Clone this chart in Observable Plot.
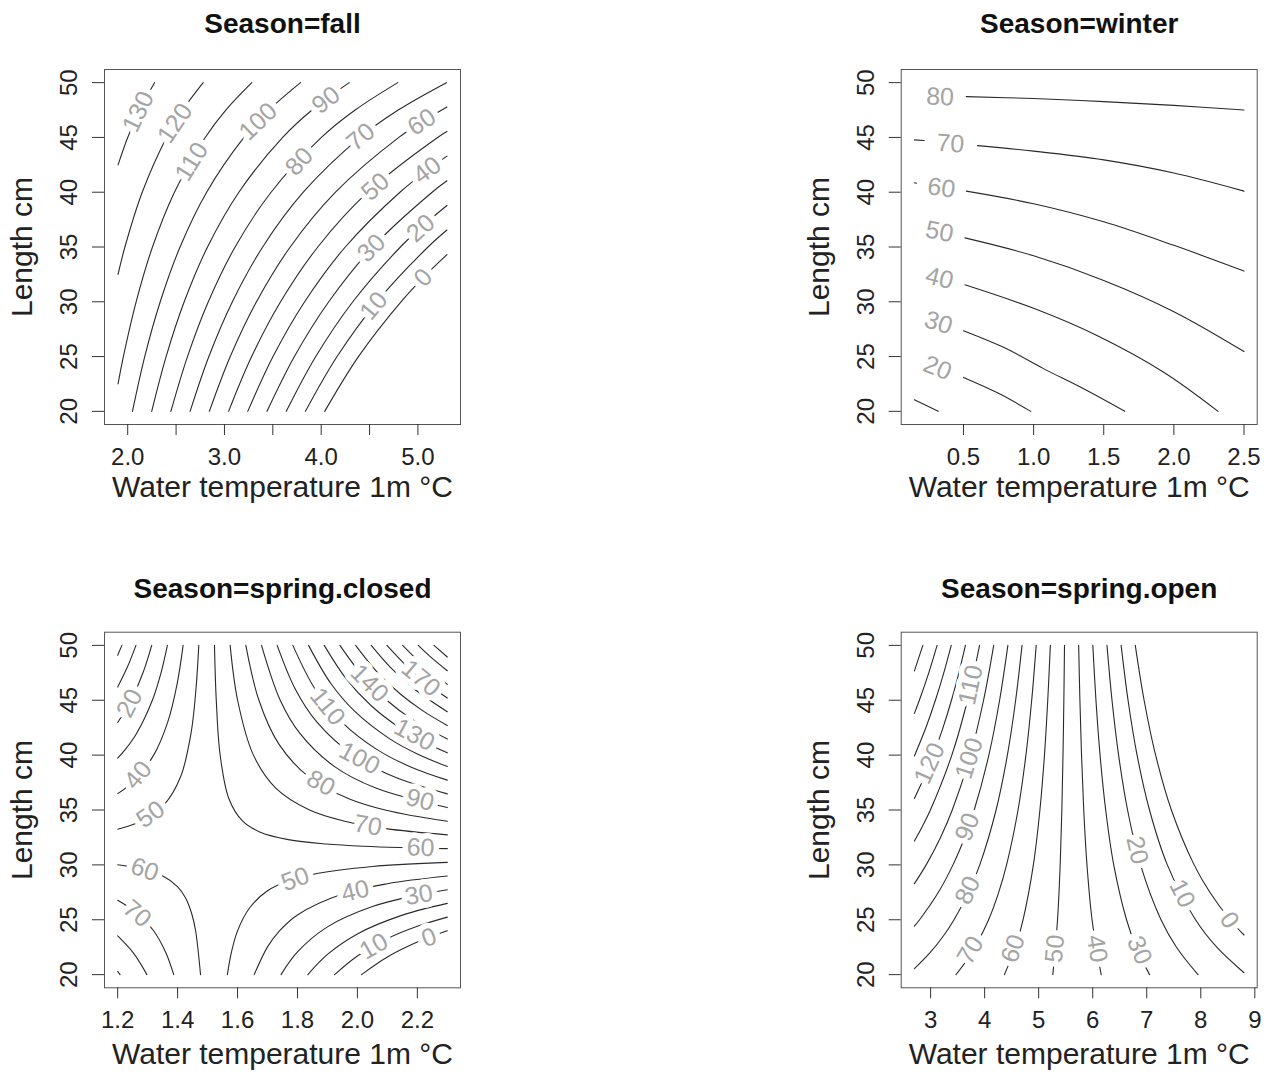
<!DOCTYPE html>
<html><head><meta charset="utf-8">
<script src="https://cdn.jsdelivr.net/npm/d3@7"></script>
<script src="https://cdn.jsdelivr.net/npm/@observablehq/plot@0.6"></script>
<style>
body{margin:0;background:#fff;}
#root{position:relative;width:1267px;height:1077px;background:#fff;}
#root > .pane{position:absolute;}
</style></head><body><div id="root"></div>
<script>
// ---- text ----
const panelTitles = ["Season=fall", "Season=winter", "Season=spring.closed", "Season=spring.open"];
const xAxisTitle = "Water temperature 1m °C";
const yAxisTitle = "Length cm";

// ---- ticks ----
const yTicks = [20, 25, 30, 35, 40, 45, 50];
const fallXTicks = [2, 2.5, 3, 3.5, 4, 4.5, 5];
const fallXLabels = [2, 3, 4, 5];
const winterXTicks = [0.5, 1, 1.5, 2, 2.5];
const closedXTicks = [1.2, 1.4, 1.6, 1.8, 2.0, 2.2];
const openXTicks = [3, 4, 5, 6, 7, 8, 9];

// ---- contour lines: [level, [[temperature, length], ...]] ----
const fallContours = [
  [0, [[4.036,20],[4.385,25],[4.825,30],[5.088,32.5],[5.3,34.3]]],
  [10, [[3.837,20],[4.164,25],[4.576,30],[5.104,35],[5.3,36.55]]],
  [20, [[3.639,20],[3.944,25],[4.327,30],[4.819,35],[5.058,37],[5.3,38.79]]],
  [30, [[3.44,20],[3.723,25],[4.078,30],[4.534,35],[5.147,40],[5.3,41.04]]],
  [40, [[3.241,20],[3.502,25],[3.829,30],[4.249,35],[4.814,40],[5.096,42],[5.3,43.29]]],
  [50, [[3.043,20],[3.281,25],[3.58,30],[3.965,35],[4.481,40],[5.204,45],[5.3,45.54]]],
  [60, [[2.844,20],[3.06,25],[3.331,30],[3.68,35],[4.148,40],[4.803,45],[5.057,46.5],[5.3,47.78]]],
  [70, [[2.645,20],[2.839,25],[3.082,30],[3.395,35],[3.815,40],[4.403,45],[4.796,47.5],[5.295,50]]],
  [80, [[2.446,20],[2.618,25],[2.833,30],[3.11,35],[3.482,40],[4.002,45],[4.351,47.5],[4.792,50]]],
  [90, [[2.248,20],[2.397,25],[2.584,30],[2.825,35],[3.149,40],[3.602,45],[3.905,47.5],[4.289,50]]],
  [100, [[2.049,20],[2.176,25],[2.336,30],[2.541,35],[2.816,40],[3.202,45],[3.46,47.5],[3.786,50]]],
  [110, [[1.9,22.5],[1.955,25],[2.087,30],[2.256,35],[2.483,40],[2.801,45],[3.014,47.5],[3.283,50]]],
  [120, [[1.9,32.5],[1.971,35],[2.15,40],[2.401,45],[2.568,47.5],[2.78,50]]],
  [130, [[1.9,42.5],[2.0,45],[2.123,47.5],[2.277,50]]]
];
const winterContours = [
  [80, [[0.52,48.72],[1.0,48.55],[1.5,48.27],[2.0,47.93],[2.5,47.5]]],
  [70, [[0.15,44.78],[0.22,44.72]]],
  [70, [[0.6,44.25],[1.0,43.75],[1.5,42.95],[2.0,41.75],[2.5,40.1]]],
  [60, [[0.15,40.86],[0.165,40.82]]],
  [60, [[0.52,40.1],[1.0,38.95],[1.5,37.3],[2.0,35.15],[2.5,32.8]]],
  [50, [[0.51,35.83],[1.0,34.2],[1.5,31.95],[2.0,29.1],[2.5,25.46]]],
  [40, [[0.51,31.55],[1.0,29.4],[1.455,26.9],[1.93,23.55],[2.315,20]]],
  [30, [[0.5,27.35],[0.8,25.75],[1.07,23.9],[1.35,22.1],[1.65,20]]],
  [20, [[0.5,23.1],[0.75,21.65],[0.98,20]]],
  [10, [[0.15,21.06],[0.32,20]]]
];
const closedContours = [
  [0, [[1.2,49.1],[1.214,50]]],
  [10, [[1.2,46.21],[1.232,48],[1.261,50]]],
  [20, [[1.2,42.97],[1.2446,45],[1.2844,47.5],[1.3136,50]]],
  [30, [[1.2,39.73],[1.225,40.5],[1.2635,42],[1.3157,45],[1.3446,47.5],[1.3659,50]]],
  [40, [[1.2,36.49],[1.2481,37.5],[1.3202,40],[1.3669,43],[1.3984,46.5],[1.4183,50]]],
  [50, [[1.2,33.25],[1.2315,33.5],[1.2783,34],[1.3554,35.5],[1.4096,38],[1.4448,42],[1.4612,46],[1.4706,50]]],
  [50, [[1.566,20],[1.58,22.09],[1.6,23.99],[1.64,26.07],[1.7,27.64],[1.77,28.55],[1.85,29.13],[2.05,29.85],[2.3,30.23]]],
  [40, [[1.6555,20],[1.7,22.53],[1.74,23.99],[1.8,25.44],[1.95,27.34],[2.1,28.28],[2.3,28.98]]],
  [30, [[1.745,20],[1.8,22.07],[1.9,24.35],[2.05,26.2],[2.2,27.25],[2.3,27.74]]],
  [20, [[1.8345,20],[1.9,21.84],[2.0,23.71],[2.15,25.42],[2.3,26.49]]],
  [10, [[1.924,20],[2.0,21.7],[2.1,23.28],[2.2,24.4],[2.3,25.24]]],
  [0, [[2.0136,20],[2.1,21.61],[2.2,22.97],[2.3,23.99]]],
  [60, [[1.2,30.01],[1.24,29.85],[1.2854,29.6],[1.3493,29],[1.4002,28],[1.4262,27],[1.4476,25.5],[1.46,24],[1.4765,20]]],
  [70, [[1.2,26.77],[1.2698,25.5],[1.3199,24],[1.3608,22],[1.387,20]]],
  [80, [[1.2,23.53],[1.2516,22],[1.2975,20]]],
  [90, [[1.2,20.29],[1.208,20]]],
  [60, [[1.523,50],[1.529,45],[1.542,40],[1.5715,36],[1.6164,34],[1.6738,33],[1.7693,32.3],[1.896,31.9],[2.02,31.7],[2.3,31.48]]],
  [70, [[1.5753,50],[1.6002,45],[1.653,40],[1.7275,37],[1.8403,35],[1.9544,34],[2.0954,33.3],[2.3,32.73]]],
  [80, [[1.6276,50],[1.6713,45],[1.738,41],[1.8385,38],[1.9735,36],[2.0924,35],[2.3,33.97]]],
  [90, [[1.68,50],[1.7424,45],[1.8074,42],[1.9215,39],[2.0615,37],[2.3,35.22]]],
  [100, [[1.7323,50],[1.7929,46],[1.8651,43],[1.9857,40],[2.1243,38],[2.3,36.47]]],
  [110, [[1.7845,50],[1.8592,46],[1.9481,43],[2.0655,40.5],[2.18,38.9],[2.3,37.72]]],
  [120, [[1.8369,50],[1.912,46.5],[1.9906,44],[2.1067,41.5],[2.2,40.1],[2.3,38.96]]],
  [130, [[1.8893,50],[1.9614,47],[2.0462,44.5],[2.1408,42.5],[2.22,41.25],[2.3,40.21]]],
  [140, [[1.9416,50],[2.0237,47],[2.098,45],[2.1803,43.3],[2.3,41.46]]],
  [150, [[1.994,50],[2.0682,47.5],[2.1461,45.5],[2.22,44.01],[2.3,42.7]]],
  [160, [[2.0462,50],[2.1101,48],[2.191,46],[2.3,43.95]]],
  [170, [[2.0986,50],[2.1687,48],[2.2331,46.5],[2.3,45.2]]],
  [180, [[2.151,50],[2.2146,48.3],[2.3,46.45]]],
  [190, [[2.2032,50],[2.2421,49],[2.3,47.69]]],
  [200, [[2.2556,50],[2.3,48.94]]]
];
const openContours = [
  [0, [[8.8,23.61],[8.541,25],[8.168,27.5],[7.877,30],[7.456,35],[7.164,40],[6.951,45],[6.788,50]]],
  [10, [[8.8,20.17],[8.296,22.5],[7.903,25],[7.381,30],[7.051,35],[6.821,40],[6.654,45],[6.526,50]]],
  [20, [[7.949,20],[7.55,22.5],[7.264,25],[6.885,30],[6.645,35],[6.479,40],[6.357,45],[6.264,50]]],
  [30, [[7.053,20],[6.804,22.5],[6.626,25],[6.389,30],[6.24,35],[6.136,40],[6.06,45],[6.002,50]]],
  [40, [[6.157,20],[5.988,25],[5.894,30],[5.834,35],[5.793,40],[5.763,45],[5.74,50]]],
  [50, [[5.262,20],[5.349,25],[5.398,30],[5.429,35],[5.45,40],[5.466,45],[5.478,50]]],
  [60, [[4.366,20],[4.568,22.5],[4.711,25],[4.902,30],[5.023,35],[5.107,40],[5.168,45],[5.216,50]]],
  [70, [[3.47,20],[3.761,22],[4.073,25],[4.26,27.5],[4.406,30],[4.618,35],[4.764,40],[4.871,45],[4.954,50]]],
  [80, [[2.7,20.54],[2.99,22],[3.233,23.5],[3.434,25],[3.702,27.5],[3.91,30],[4.212,35],[4.421,40],[4.574,45],[4.692,50]]],
  [90, [[2.7,24.42],[2.796,25],[3.144,27.5],[3.414,30],[3.63,32.5],[3.807,35],[4.078,40],[4.277,45],[4.43,50]]],
  [100, [[2.7,28.29],[2.918,30],[3.184,32.5],[3.401,35],[3.736,40],[3.98,45],[4.168,50]]],
  [110, [[2.7,32.17],[2.847,33.5],[2.996,35],[3.393,40],[3.683,45],[3.906,50]]],
  [120, [[2.7,36.05],[2.884,38],[3.05,40],[3.23,42.5],[3.386,45],[3.523,47.5],[3.644,50]]],
  [130, [[2.7,39.92],[2.912,42.5],[3.089,45],[3.244,47.5],[3.382,50]]],
  [140, [[2.7,43.8],[2.792,45],[2.966,47.5],[3.12,50]]],
  [150, [[2.7,47.67],[2.857,50]]]
];

// ---- contour labels: [level, temperature, length, angle] ----
const fallLabels = [
  [130,2.11,47.35,-64],[120,2.49,46.3,-56],[110,2.661,42.8,-58],[100,3.35,46.45,-44],
  [90,4.05,48.4,-38],[80,3.773,42.8,-48],[70,4.41,45.05,-40],[60,5.04,46.4,-33],
  [50,4.56,40.5,-42],[40,5.096,42,-37],[30,4.52,34.9,-45],[20,5.03,36.7,-42],
  [10,4.545,29.62,-50],[0,5.056,32.2,-46]
];
const winterLabels = [
  [80,0.333,48.68,2],[70,0.407,44.43,4],[60,0.343,40.38,8],[50,0.329,36.38,11],
  [40,0.329,32.14,14],[30,0.321,28.07,18],[20,0.314,23.95,22]
];
const closedLabels = [
  [20,1.24,44.72,-62],[40,1.268,38.18,-50],[50,1.31,34.6,-35],[60,1.29,29.57,19],[70,1.265,25.55,40],
  [110,1.90,44.41,51],[140,2.04,46.54,45],[170,2.212,47.0,40],[130,2.19,41.83,28],[100,2.007,39.7,28],
  [80,1.878,37.43,29],[90,2.209,35.9,15],[70,2.035,33.58,10],[60,2.211,31.55,2],
  [50,1.793,28.7,-20],[40,1.993,27.6,-13],[30,2.205,27.25,-10],[10,2.055,22.57,-30],[0,2.239,23.37,-20]
];
const openLabels = [
  [110,3.745,46.39,-78],[100,3.716,39.71,-72],[120,2.984,39.25,-66],[90,3.685,33.45,-69],
  [80,3.689,27.68,-65],[70,3.738,22.22,-59],[60,4.53,22.37,-71],[50,5.303,22.37,-85],
  [40,6.077,22.37,81],[30,6.863,22.22,67],[20,6.821,31.33,77],[10,7.655,27.38,63],[0,8.527,24.95,57]
];

// ---- layout ----
const FONT = "'Liberation Sans', Arial, Helvetica, sans-serif";
const panels = [
  {title: panelTitles[0], contours: fallContours, labels: fallLabels, xDomain: [1.76, 5.44],
   xTicks: fallXTicks, xLabels: fallXLabels, fmt: d3.format(".1f"),
   left: 0, top: 0, width: 633, height: 538, ml: 104, mr: 173, mt: 69, mb: 114, titleDy: -45, tickDy: 32.5, xTitleDy: 63},
  {title: panelTitles[1], contours: winterContours, labels: winterLabels, xDomain: [0.056, 2.594],
   xTicks: winterXTicks, xLabels: winterXTicks, fmt: d3.format(".1f"),
   left: 633, top: 0, width: 634, height: 538, ml: 267.7, mr: 10.3, mt: 69, mb: 114, titleDy: -45, tickDy: 32.5, xTitleDy: 63},
  {title: panelTitles[2], contours: closedContours, labels: closedLabels, xDomain: [1.156, 2.344],
   xTicks: closedXTicks, xLabels: closedXTicks, fmt: d3.format(".1f"),
   left: 0, top: 538, width: 633, height: 539, ml: 104, mr: 173, mt: 93.7, mb: 89.7, titleDy: -43, tickDy: 33, xTitleDy: 67},
  {title: panelTitles[3], contours: openContours, labels: openLabels, xDomain: [2.456, 9.044],
   xTicks: openXTicks, xLabels: openXTicks, fmt: d3.format("d"),
   left: 633, top: 538, width: 634, height: 539, ml: 267.7, mr: 10.3, mt: 93.7, mb: 89.7, titleDy: -43, tickDy: 33, xTitleDy: 67}
];

function drawPanel(p) {
  const rows = p.contours.flatMap(([z, pts], i) => pts.map(([T, L]) => ({id: i, z, T, L})));
  const labs = p.labels.map(([z, T, L, r]) => ({z, T, L, r}));
  return Plot.plot({
    width: p.width, height: p.height,
    marginLeft: p.ml, marginRight: p.mr, marginTop: p.mt, marginBottom: p.mb,
    x: {domain: p.xDomain, axis: null},
    y: {domain: [18.8, 51.2], axis: null},
    style: {fontFamily: FONT, fontSize: "24px", color: "#222", background: "white"},
    marks: [
      Plot.line(rows, {x: "T", y: "L", z: "id", stroke: "#2a2a2a", strokeWidth: 1.1, curve: "catmull-rom"}),
      Plot.text(labs, {x: "T", y: "L", text: d => String(d.z), rotate: "r", fill: "#a4a4a4",
        stroke: "white", strokeWidth: 11, strokeLinejoin: "round", fontSize: 25, textAnchor: "middle", lineAnchor: "middle"}),
      Plot.frame({stroke: "#555"}),
      Plot.axisX({ticks: p.xTicks, tickSize: 11, fill: "none", stroke: "#333", label: null}),
      Plot.axisY({ticks: yTicks, tickSize: 12, fill: "none", stroke: "#333", label: null}),
      Plot.text(p.xLabels, {x: d => d, frameAnchor: "bottom", dy: p.tickDy, text: d => p.fmt(d),
        fontSize: 24, fill: "#222", lineAnchor: "middle", textAnchor: "middle"}),
      Plot.text(yTicks, {y: d => d, frameAnchor: "left", dx: -35, rotate: -90, text: d => String(d),
        fontSize: 24, fill: "#222", lineAnchor: "middle", textAnchor: "middle"}),
      Plot.text([xAxisTitle], {frameAnchor: "bottom", dy: p.xTitleDy, fontSize: 30, fill: "#222", lineAnchor: "middle", textAnchor: "middle"}),
      Plot.text([yAxisTitle], {frameAnchor: "left", dx: -82, rotate: -90, fontSize: 30, fill: "#222", lineAnchor: "middle", textAnchor: "middle"}),
      Plot.text([p.title], {frameAnchor: "top", dy: p.titleDy, fontSize: 28, fontWeight: "bold", fill: "#111", lineAnchor: "middle", textAnchor: "middle"})
    ]
  });
}

const root = document.getElementById("root");
for (const p of panels) {
  const div = document.createElement("div");
  div.className = "pane";
  div.style.left = p.left + "px";
  div.style.top = p.top + "px";
  div.appendChild(drawPanel(p));
  root.appendChild(div);
}
</script>
</body></html>
